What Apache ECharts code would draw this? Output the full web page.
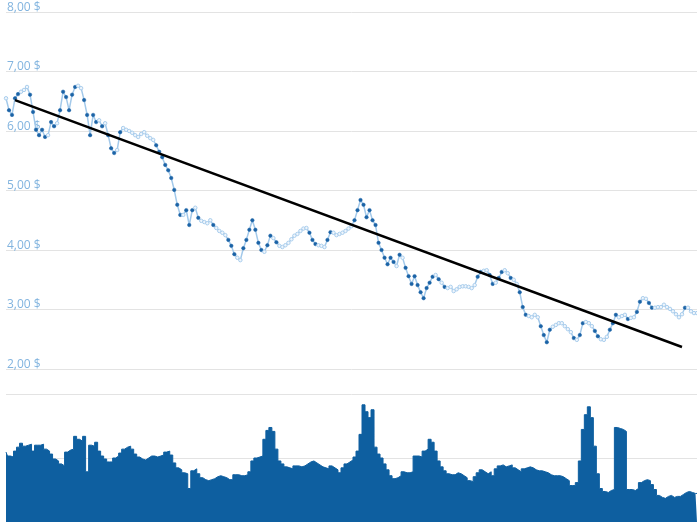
<!DOCTYPE html>
<html>
<head>
<meta charset="utf-8">
<script src="https://cdn.jsdelivr.net/npm/echarts@6/dist/echarts.min.js"></script>
<style>html,body{margin:0;padding:0;background:#fff}#c{width:697px;height:522px}</style>
</head>
<body>
<div id="c"></div>
<script>
var price = [
6.55,6.35,6.27,6.55,6.62,6.66,6.69,6.74,6.61,6.32,
6.02,5.93,6.02,5.90,5.93,6.15,6.08,6.13,6.35,6.66,
6.57,6.35,6.61,6.74,6.76,6.72,6.52,6.27,5.93,6.27,
6.15,6.18,6.08,6.13,5.93,5.71,5.63,5.68,5.98,6.05,
6.02,6.00,5.97,5.93,5.90,5.95,5.98,5.92,5.88,5.85,
5.76,5.65,5.56,5.43,5.34,5.21,5.01,4.76,4.59,4.59,
4.67,4.42,4.67,4.71,4.54,4.49,4.47,4.45,4.50,4.42,
4.37,4.32,4.29,4.25,4.17,4.07,3.93,3.87,3.83,4.03,
4.17,4.34,4.50,4.34,4.12,4.00,3.97,4.08,4.24,4.20,
4.13,4.07,4.05,4.08,4.12,4.18,4.24,4.27,4.32,4.36,
4.37,4.29,4.17,4.10,4.08,4.07,4.05,4.17,4.30,4.29,
4.25,4.27,4.29,4.32,4.36,4.40,4.50,4.67,4.84,4.76,
4.55,4.67,4.50,4.42,4.12,4.00,3.87,3.76,3.87,3.80,
3.73,3.92,3.87,3.70,3.56,3.43,3.56,3.41,3.29,3.19,
3.36,3.45,3.55,3.58,3.51,3.45,3.38,3.36,3.38,3.31,
3.34,3.38,3.39,3.39,3.38,3.36,3.41,3.55,3.63,3.65,
3.66,3.58,3.43,3.45,3.53,3.63,3.66,3.61,3.53,3.50,
3.43,3.29,3.04,2.91,2.89,2.87,2.91,2.87,2.72,2.57,
2.45,2.66,2.71,2.74,2.77,2.77,2.72,2.67,2.62,2.52,
2.49,2.57,2.77,2.79,2.77,2.72,2.64,2.55,2.50,2.49,
2.54,2.66,2.77,2.91,2.87,2.89,2.91,2.84,2.86,2.87,
2.96,3.13,3.19,3.18,3.11,3.03,3.03,3.04,3.04,3.08,
3.04,3.01,2.97,2.92,2.87,2.92,3.03,3.03,2.97,2.94,
2.94
];
var volume = [
71,67,66,72,76,80,77,78,79,72,
78,78,79,74,72,69,64,62,59,57,
71,73,74,87,84,82,87,51,78,77,
81,72,67,64,61,61,65,67,70,74,
76,77,74,69,66,64,63,65,67,67,
66,67,68,71,72,68,60,55,53,50,
49,34,52,54,49,45,43,42,43,44,
46,47,46,45,43,43,48,48,47,47,
48,51,62,65,66,67,84,93,96,92,
74,62,59,56,55,54,57,57,56,57,
59,61,62,60,58,56,55,54,57,55,
53,50,55,59,61,63,66,72,89,119,
112,106,114,76,69,65,59,53,47,44,
45,47,51,50,50,51,67,67,66,72,
74,84,81,72,62,56,52,49,48,48,
50,49,47,45,42,41,46,50,53,51,
49,51,47,54,57,58,56,57,58,55,
53,51,54,55,56,55,53,52,52,51,
50,48,47,47,47,46,44,42,37,37,
40,62,94,109,117,106,77,49,34,31,
30,32,33,96,95,94,92,33,33,32,
34,40,42,43,42,38,33,27,25,24,
26,27,25,26,26,28,30,31,30,29,
29
];
var priceTicks = [2, 3, 4, 5, 6, 7, 8];
var trendStart = [3, 6.52];
var trendEnd = [225, 2.37];

var categories = price.map(function (_, i) { return i; });
var priceData = price.map(function (v, i) {
  var d = i === 0 ? 0 : Math.abs(v - price[i - 1]);
  var dark = d >= 0.07;
  return {
    value: v,
    itemStyle: dark
      ? { color: '#1b63a6', borderColor: '#1b63a6', borderWidth: 0.5 }
      : { color: '#eef5fc', borderColor: '#a9cdec', borderWidth: 1 }
  };
});

var chart = echarts.init(document.getElementById('c'), null, { renderer: 'canvas' });
chart.setOption({
  animation: false,
  grid: [
    { left: 6, right: 0, top: 12, height: 357 },
    { left: 6, right: 0, top: 394, height: 130 }
  ],
  xAxis: [
    { type: 'category', gridIndex: 0, data: categories, boundaryGap: false,
      axisLine: { show: false }, axisTick: { show: false }, axisLabel: { show: false }, splitLine: { show: false } },
    { type: 'category', gridIndex: 1, data: categories, boundaryGap: false,
      axisLine: { show: false }, axisTick: { show: false }, axisLabel: { show: false }, splitLine: { show: false } }
  ],
  yAxis: [
    { type: 'value', gridIndex: 0, min: priceTicks[0], max: priceTicks[priceTicks.length - 1], interval: 1,
      axisLine: { show: false }, axisTick: { show: false },
      splitLine: { lineStyle: { color: '#e3e3e3', width: 1 } },
      axisLabel: {
        inside: true, align: 'left', verticalAlign: 'bottom', margin: 1,
        color: '#82b4df', fontSize: 12, fontFamily: 'Open Sans, sans-serif',
        lineHeight: 9,
        formatter: function (v) { return v.toFixed(2).replace('.', ',') + ' $'; }
      }
    },
    { type: 'value', gridIndex: 1, min: 0, max: 130, interval: 65,
      axisLine: { show: false }, axisTick: { show: false }, axisLabel: { show: false },
      splitLine: { lineStyle: { color: '#e3e3e3', width: 1 } }
    }
  ],
  series: [
    {
      type: 'line', xAxisIndex: 0, yAxisIndex: 0, data: priceData,
      symbol: 'circle', symbolSize: 3.5, showAllSymbol: true,
      lineStyle: { color: '#a3c9ea', width: 1.5 },
      z: 3,
      markLine: {
        silent: true, symbol: ['none', 'none'], label: { show: false },
        lineStyle: { color: '#000', width: 2.5, type: 'solid' },
        emphasis: { disabled: true },
        data: [[{ coord: trendStart }, { coord: trendEnd }]]
      }
    },
    {
      type: 'line', xAxisIndex: 1, yAxisIndex: 1, data: volume,
      step: 'middle', symbol: 'none', showSymbol: false,
      lineStyle: { color: '#0e5fa0', width: 1 },
      areaStyle: { color: '#0e5fa0', opacity: 1 },
      z: 2
    }
  ]
});
</script>
</body>
</html>
